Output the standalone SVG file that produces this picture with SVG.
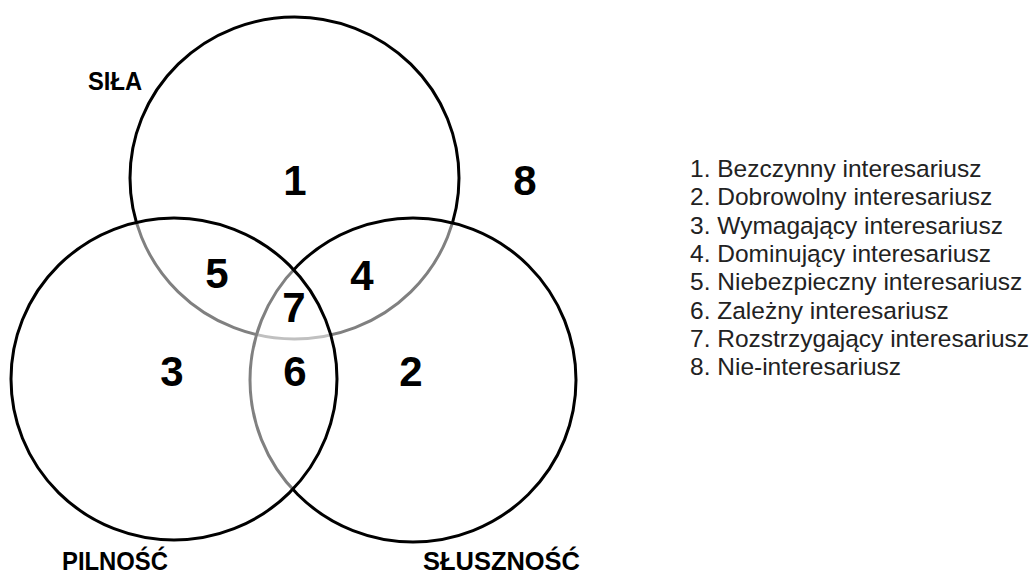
<svg xmlns="http://www.w3.org/2000/svg" width="1036" height="573" viewBox="0 0 1036 573">
<style>
.set{fill:#ffffff;fill-opacity:0.5;stroke:#000;stroke-width:3}
.num{font-family:"Liberation Sans",Arial,sans-serif;font-weight:bold;font-size:42px;fill:#000;text-anchor:middle}
.lbl{font-family:"Liberation Sans",Arial,sans-serif;font-weight:bold;font-size:25px;fill:#000}
.leg{font-family:"Liberation Sans",Arial,sans-serif;font-size:24.5px;fill:#222}
</style>
<rect width="1036" height="573" fill="#fff"/>
<g id="circle-sila"><ellipse class="set" cx="294.5" cy="178" rx="164.5" ry="161"/></g>
<g id="circle-slusznosc"><ellipse class="set" cx="413" cy="380" rx="163" ry="162"/></g>
<g id="circle-pilnosc"><ellipse class="set" cx="174" cy="379" rx="163" ry="161"/></g>
<g id="connectors"></g>
<g id="set-labels">
<text class="lbl" x="88" y="90" textLength="54" lengthAdjust="spacingAndGlyphs">SIŁA</text>
<text class="lbl" x="62" y="570" textLength="106" lengthAdjust="spacingAndGlyphs">PILNOŚĆ</text>
<text class="lbl" x="423" y="570" textLength="157" lengthAdjust="spacingAndGlyphs">SŁUSZNOŚĆ</text>
</g>
<g id="region-numbers">
<text class="num" x="295" y="195">1</text>
<text class="num" x="525" y="195">8</text>
<text class="num" x="217" y="288">5</text>
<text class="num" x="362" y="290">4</text>
<text class="num" x="294" y="322">7</text>
<text class="num" x="172" y="386">3</text>
<text class="num" x="295" y="386">6</text>
<text class="num" x="411" y="386">2</text>
</g>
<g id="legend">
<text class="leg" x="690" y="177">1. Bezczynny interesariusz</text>
<text class="leg" x="690" y="205.3">2. Dobrowolny interesariusz</text>
<text class="leg" x="690" y="233.6">3. Wymagający interesariusz</text>
<text class="leg" x="690" y="261.9">4. Dominujący interesariusz</text>
<text class="leg" x="690" y="290.2">5. Niebezpieczny interesariusz</text>
<text class="leg" x="690" y="318.5">6. Zależny interesariusz</text>
<text class="leg" x="690" y="346.8">7. Rozstrzygający interesariusz</text>
<text class="leg" x="690" y="375.1">8. Nie-interesariusz</text>
</g>
</svg>
